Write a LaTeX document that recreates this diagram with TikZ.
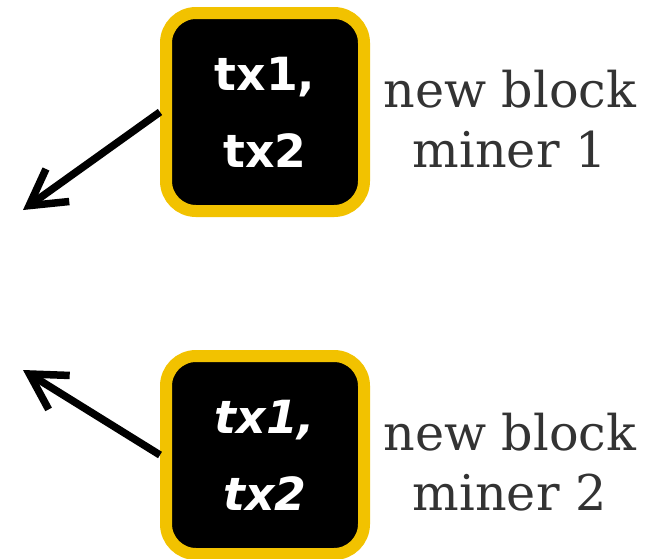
\documentclass[tikz,border=0pt]{standalone}
\usepackage{fontspec}
\setmainfont{DejaVu Serif}
\newfontfamily\txfont{DejaVu Sans}
\usepackage{xcolor}
\definecolor{blkgold}{HTML}{F2C200}
\definecolor{lblgrey}{HTML}{333333}
\usetikzlibrary{positioning,arrows.meta}
\tikzset{
  blk/.style ={rectangle, rounded corners=0.6cm, draw=blkgold, line width=0.24cm,
               fill=black, text=white, minimum width=3.96cm, minimum height=3.96cm,
               align=center, font=\txfont\bfseries\fontsize{26}{44}\selectfont},
  blki/.style={blk, font=\txfont\bfseries\itshape\fontsize{26}{44}\selectfont},
  lbl/.style ={text=lblgrey, align=center, inner sep=0pt,
               font=\fontsize{28}{34}\selectfont},
  arr/.style ={-{Straight Barb[length=7mm, width=8mm]}, line width=0.15cm},
}

\begin{document}
\begin{tikzpicture}
  \useasboundingbox (0,0) rectangle (13.02,-11.16);
  % miner 1
  \node[blk] (blk1) at (5.3,-2.24) {tx1,\\tx2};
  \node[lbl, right=0.26cm of blk1, yshift=-0.15cm] (lbl1) {new block\\miner 1};
  % miner 2
  \node[blki] (blk2) at (5.3,-9.1) {tx1,\\tx2};
  \node[lbl, right=0.26cm of blk2, yshift=-0.15cm] (lbl2) {new block\\miner 2};
  % outgoing blocks
  \coordinate (out1) at (0.46,-4.2);
  \coordinate (out2) at (0.46,-7.4);
  \draw[arr] (blk1.west) -- (out1);
  \draw[arr] (blk2.west) -- (out2);
\end{tikzpicture}
\end{document}
